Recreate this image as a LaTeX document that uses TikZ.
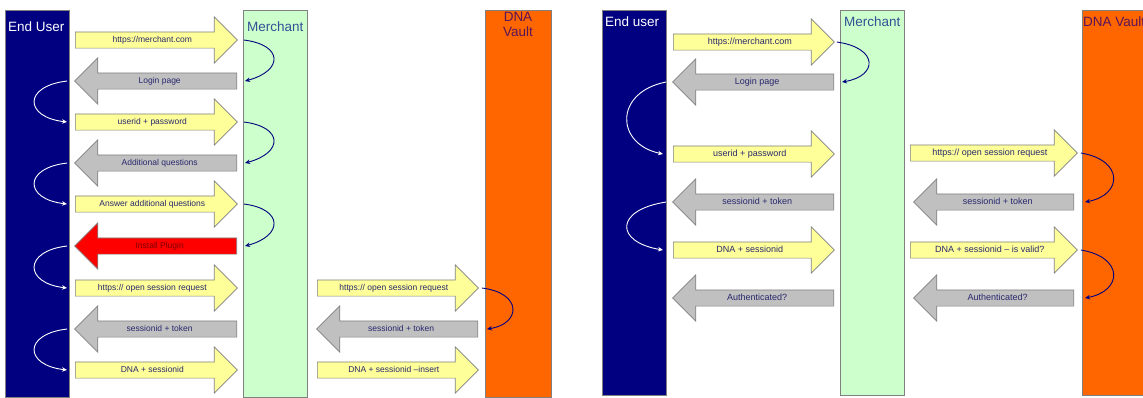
\documentclass[tikz,border=0pt]{standalone}
\usepackage{fontspec}
\setmainfont{Liberation Sans}
\usetikzlibrary{shapes.arrows,arrows.meta}
\definecolor{eunavy}{RGB}{0,0,128}
\definecolor{mgreen}{RGB}{204,255,204}
\definecolor{vorange}{RGB}{255,102,0}
\definecolor{ayellow}{RGB}{255,255,153}
\definecolor{agray}{RGB}{192,192,192}
\definecolor{bgray}{RGB}{128,128,128}
\definecolor{labelnavy}{RGB}{40,40,110}
\definecolor{merchblue}{RGB}{50,80,150}
\definecolor{vaultpurple}{RGB}{90,20,90}
\definecolor{plugred}{RGB}{128,0,0}
\begin{document}
\begin{tikzpicture}[x=1pt,y=-1pt,
  col/.style={draw=bgray, line width=0.6pt, anchor=north west, minimum width=64pt, inner sep=0pt},
  head/.style={font=\fontsize{13.5}{15}\selectfont, inner sep=0pt},
  flow/.style={single arrow, draw=bgray, line width=0.7pt,
    single arrow head extend=15pt, single arrow tip angle=90,
    minimum width=46pt, inner xsep=2pt, inner ysep=3.5pt,
    text height=6.5pt, text depth=2pt, text=labelnavy},
  lfont/.style={font=\fontsize{8.5}{9}\selectfont},
  rfont/.style={font=\fontsize{9}{10}\selectfont},
  rflow/.style={flow, anchor=tail, fill=ayellow},
  lflow/.style={flow, shape border rotate=180, anchor=tail, fill=agray},
  navycurve/.style={draw=eunavy, line width=0.9pt, -{Stealth[length=5pt,width=4.5pt]}},
  whitecurve/.style={draw=white, line width=0.9pt, -{Stealth[length=5pt,width=4.5pt]}}
]
\useasboundingbox (0,0) rectangle (1143,397);
\clip (0,0) rectangle (1143,397);

% ---------- left diagram: columns ----------
\node[col, fill=eunavy, minimum height=387pt] (eu1) at (5,10) {};
\node[col, fill=mgreen, minimum height=387pt] (me1) at (243,10) {};
\node[col, fill=vorange, minimum height=387pt, minimum width=66pt] (dv1) at (485,10) {};
\node[head, text=white, anchor=base west] (eu1t) at (8,31) {End User};
\node[head, text=merchblue, anchor=base west] (me1t) at (247,31) {Merchant};
\node[head, text=vaultpurple, align=center, anchor=north] (dv1t) at (518,12) {DNA\\Vault};

% ---------- left diagram: arrows ----------
\begin{scope}[every node/.append style={lfont, minimum height=162pt}]
\node[rflow] (L1) at (75,40) {https://merchant.com};
\node[lflow] (L2) at (237,81) {Login page};
\node[rflow] (L3) at (75,122) {userid + password};
\node[lflow] (L4) at (237,163) {Additional questions};
\node[rflow] (L5) at (75,204) {Answer additional questions};
\node[lflow, fill=red, text=plugred] (L6) at (237,246) {Install Plugin};
\node[rflow] (L7) at (75,288) {https:// open session request};
\node[lflow] (L8) at (237,329) {sessionid + token};
\node[rflow] (L9) at (75,370) {DNA + sessionid};
\end{scope}
\begin{scope}[every node/.append style={lfont, minimum height=161pt}]
\node[rflow] (M1) at (317,288) {https:// open session request};
\node[lflow] (M2) at (478,329) {sessionid + token};
\node[rflow] (M3) at (317,370) {DNA + sessionid --insert};
\end{scope}

% ---------- left diagram: curves ----------
\draw[navycurve] ([xshift=6pt]L1.tip) .. controls +(40,5) and +(38,-10) .. ([xshift=8pt]L2.tail);
\draw[navycurve] ([xshift=6pt]L3.tip) .. controls +(40,5) and +(38,-10) .. ([xshift=8pt]L4.tail);
\draw[navycurve] ([xshift=6pt]L5.tip) .. controls +(40,5) and +(38,-10) .. ([xshift=8pt]L6.tail);
\draw[whitecurve] ([xshift=-7pt]L2.tip) .. controls +(-44,5) and +(-43,-5) .. ([xshift=-8pt]L3.tail);
\draw[whitecurve] ([xshift=-7pt]L4.tip) .. controls +(-44,5) and +(-43,-5) .. ([xshift=-8pt]L5.tail);
\draw[whitecurve] ([xshift=-7pt]L6.tip) .. controls +(-44,5) and +(-43,-5) .. ([xshift=-8pt]L7.tail);
\draw[whitecurve] ([xshift=-7pt]L8.tip) .. controls +(-44,5) and +(-43,-5) .. ([xshift=-8pt]L9.tail);
\draw[navycurve] ([xshift=3pt]M1.tip) .. controls +(41,5) and +(34,-5) .. ([xshift=9pt]M2.tail);

% ---------- right diagram: columns ----------
\node[col, fill=eunavy, minimum height=385pt] (eu2) at (602,10) {};
\node[col, fill=mgreen, minimum height=385pt] (me2) at (840,10) {};
\node[col, fill=vorange, minimum height=385pt, minimum width=90pt] (dv2) at (1082,10) {};
\node[head, text=white, anchor=base west] (eu2t) at (605,26) {End user};
\node[head, text=merchblue, anchor=base west] (me2t) at (844,26) {Merchant};
\node[head, text=vaultpurple, anchor=base west] (dv2t) at (1083,26) {DNA Vault};

% ---------- right diagram: arrows ----------
\begin{scope}[every node/.append style={rfont, minimum height=161pt}]
\node[rflow] (R1) at (673,42) {https://merchant.com};
\node[lflow] (R2) at (834,82) {Login page};
\node[rflow] (R3) at (673,154) {userid + password};
\node[lflow] (R4) at (834,202) {sessionid + token};
\node[rflow] (R5) at (673,250) {DNA + sessionid};
\node[lflow] (R6) at (834,298) {Authenticated?};
\end{scope}
\begin{scope}[every node/.append style={rfont}]
\node[rflow, minimum height=167pt] (S1) at (910,153) {https:// open session request};
\node[lflow, minimum height=160pt] (S2) at (1074,202) {sessionid + token};
\node[rflow, minimum height=167pt] (S3) at (910,250) {DNA + sessionid -- is valid?};
\node[lflow, minimum height=160pt] (S4) at (1074,298) {Authenticated?};
\end{scope}

% ---------- right diagram: curves ----------
\draw[navycurve] ([xshift=2pt]R1.tip) .. controls +(42,6) and +(36,-6) .. ([xshift=8pt]R2.tail);
\draw[whitecurve] ([xshift=-6pt]R2.tip) .. controls +(-52,10) and +(-48,-10) .. ([xshift=-10pt]R3.tail);
\draw[whitecurve] ([xshift=-6pt]R4.tip) .. controls +(-52,8) and +(-48,-8) .. ([xshift=-10pt]R5.tail);
\draw[navycurve] ([xshift=3pt]S1.tip) .. controls +(43,7) and +(38,-7) .. ([xshift=11pt]S2.tail);
\draw[navycurve] ([xshift=3pt]S3.tip) .. controls +(43,7) and +(38,-7) .. ([xshift=11pt]S4.tail);
\end{tikzpicture}
\end{document}
